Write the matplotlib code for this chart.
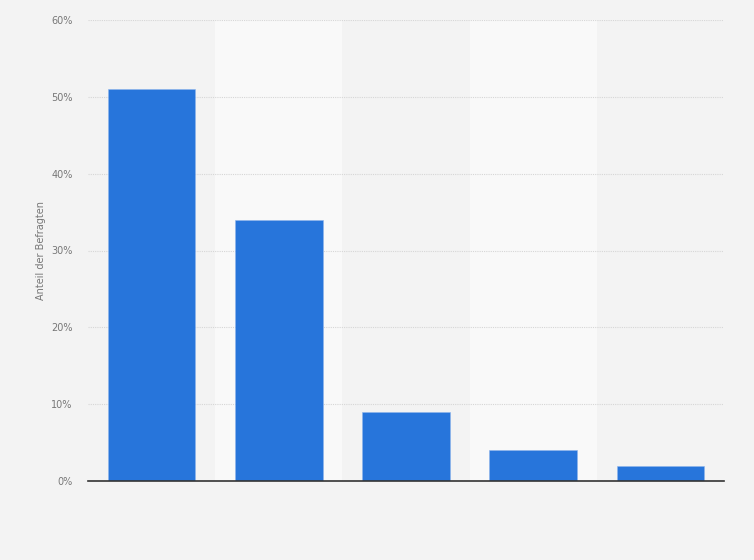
import numpy as np
import matplotlib.pyplot as plt

# Survey shares (percent), categories unlabeled in the source image
categories = ["1", "2", "3", "4", "5"]
values = [51, 34, 9, 4, 2]
yticks = [0, 10, 20, 30, 40, 50, 60]
ytick_labels = ["0%", "10%", "20%", "30%", "40%", "50%", "60%"]

fig = plt.figure(figsize=(7.54, 5.60), dpi=100)
fig.patch.set_facecolor("#f3f3f3")
ax = fig.add_axes([88 / 754, 79 / 560, 636 / 754, 461 / 560])
ax.set_facecolor("#f3f3f3")

x = np.arange(len(categories))

# alternating lighter column bands
for i in x:
    if i % 2 == 1:
        ax.axvspan(i - 0.5, i + 0.5, color="#f9f9f9", zorder=0, lw=0)

ax.bar(x, values, width=0.69, color="#2775db", edgecolor="#8fb5ec",
       linewidth=0.4, zorder=3)

ax.set_xlim(-0.5, len(categories) - 0.5)
ax.set_ylim(0, 60)
ax.set_yticks(yticks)
ax.set_yticklabels(ytick_labels)
ax.set_xticks([])
ax.yaxis.grid(True, linestyle=(0, (1, 1)), color="#d6d6d6", linewidth=0.8, zorder=1)
ax.tick_params(axis="y", length=0, pad=11, labelsize=7, labelcolor="#777777")

for s in ["top", "right", "left"]:
    ax.spines[s].set_visible(False)
ax.spines["bottom"].set_color("#333333")
ax.spines["bottom"].set_linewidth(1.2)
ax.spines["bottom"].set_zorder(4)

ax.set_ylabel("Anteil der Befragten", fontsize=7, color="#777777", labelpad=4)

plt.savefig("out.png", dpi=100, facecolor=fig.get_facecolor())
